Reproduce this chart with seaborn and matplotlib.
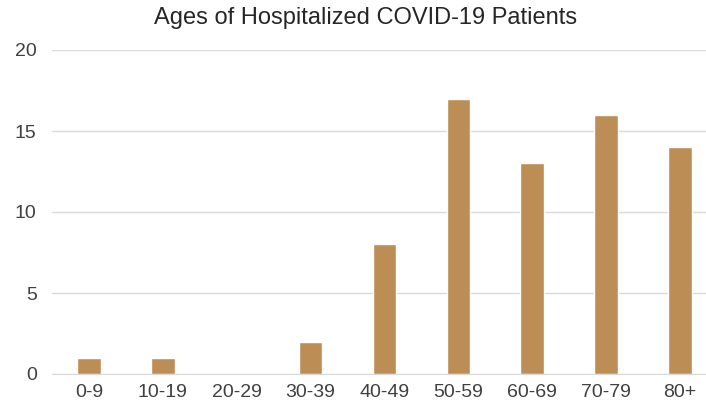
import pandas as pd
import seaborn as sns
import matplotlib.pyplot as plt

# Dados
faixas = ["0-9", "10-19", "20-29", "30-39", "40-49", "50-59", "60-69", "70-79", "80+"]
pacientes = [1, 1, 0, 2, 8, 17, 13, 16, 14]

df = pd.DataFrame({"faixa": faixas, "pacientes": pacientes})

sns.set_style("white")
plt.rcParams['font.family'] = ['Liberation Sans', 'DejaVu Sans']

fig = plt.figure(figsize=(7.06, 4.08), dpi=100)
ax = fig.add_axes([52 / 706, 34 / 408, 665 / 706, 324 / 408])

sns.barplot(data=df, x="faixa", y="pacientes", color="#BC8E55",
            width=0.32, saturation=1, ax=ax)

ax.set_ylim(0, 20)
ax.set_yticks([0, 5, 10, 15, 20])
ax.yaxis.grid(True, color="#D9D9D9", linewidth=1)
ax.set_axisbelow(True)
for s in ["top", "right", "left"]:
    ax.spines[s].set_visible(False)
ax.spines["bottom"].set_color("#D9D9D9")
ax.tick_params(axis="both", length=0, labelsize=14, colors="#404040")
ax.tick_params(axis="y", pad=11)
ax.tick_params(axis="x", pad=7)
ax.set_xlabel("")
ax.set_ylabel("")
fig.text(0.518, 0.957, "Ages of Hospitalized COVID-19 Patients", ha="center",
         va="center", fontsize=17, color="#262626")

fig.savefig("out.png", dpi=100)
